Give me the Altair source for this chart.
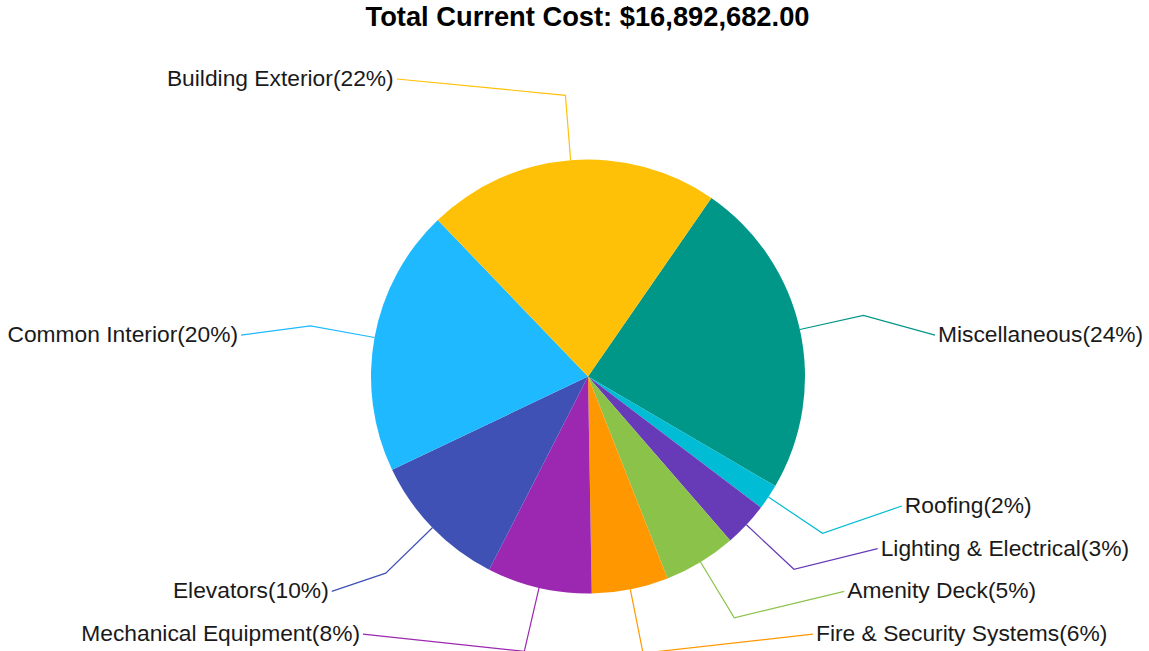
import math
import altair as alt
import pandas as pd

# ---------------- data ----------------
categories = ["Miscellaneous", "Roofing", "Lighting & Electrical", "Amenity Deck",
              "Fire & Security Systems", "Mechanical Equipment", "Elevators",
              "Common Interior", "Building Exterior"]
costs = [4020458, 320961, 557459, 912205, 962883, 1317629, 1756839, 3361644, 3682604]
colors = ["#009688", "#00BCD4", "#673AB7", "#8BC34A", "#FF9800",
          "#9C27B0", "#3F51B5", "#1EB9FF", "#FFC107"]

total = sum(costs)
title_text = f"Total Current Cost: ${total:,.2f}"

# ---------------- layout ----------------
W, H, PAD_TOP = 1149, 615, 36
CX, CY = 588, 376.5           # pie centre on the page
R = 217                       # pie radius
START = math.radians(34.65)   # angle where the first slice begins
ELBOW = 1.3                   # leader elbow radius (x R)
ROW_TOP, ROW_STEP, NROWS = 79, 42.7, 14   # label rows (page y)
LABEL_RC = ROW_TOP + ROW_STEP * (NROWS - 1) / 2   # centre of label circle
LABEL_R = 347.6                                   # radius of label circle
EDGE_ROW_X = {0: 191.3, NROWS - 1: 225.0}         # first/last rows pulled in
FONT = "Liberation Sans"

XS = alt.Scale(domain=[-CX, W - CX], nice=False, zero=False)
YS = alt.Scale(domain=[CY - (PAD_TOP + H), CY - PAD_TOP], nice=False, zero=False)

rows = [ROW_TOP + k * ROW_STEP for k in range(NROWS)]

slices = []
cum = 0
for i, (c, v) in enumerate(zip(categories, costs)):
    ang = START + 2 * math.pi * (cum + v / 2) / total
    cum += v
    pct = v / total * 100
    side = "right" if math.sin(ang) > 0 else "left"
    slices.append(dict(idx=i, category=c, cost=v, ang=ang, side=side,
                       label=f"{c}({int(pct + 0.5)}%)"))

# assign label rows (largest slices first, nearest free row)
taken = {"left": set(), "right": set()}
for s in sorted(slices, key=lambda d: -d["cost"]):
    ey = CY - ELBOW * R * math.cos(s["ang"])
    free = [k for k in range(NROWS) if k not in taken[s["side"]]]
    k = min(free, key=lambda k: abs(rows[k] - ey))
    taken[s["side"]].add(k)
    s["row"] = k

line_rows = []
text_rows = []
for s in slices:
    a = s["ang"]
    sgn = 1 if s["side"] == "right" else -1
    k = s["row"]
    ly = rows[k]
    if k in EDGE_ROW_X:
        ax = EDGE_ROW_X[k]
    else:
        ax = math.sqrt(max(LABEL_R ** 2 - (ly - LABEL_RC) ** 2, 0))
    lx = sgn * ax
    pts = [(R * math.sin(a), R * math.cos(a)),
           (ELBOW * R * math.sin(a), ELBOW * R * math.cos(a)),
           (lx, CY - ly)]
    for j, (px, py) in enumerate(pts):
        line_rows.append(dict(category=s["category"], step=j, px=px, py=py))
    text_rows.append(dict(category=s["category"], label=s["label"], side=s["side"],
                          px=lx, py=CY - ly))

pie_df = pd.DataFrame([dict(idx=s["idx"], category=s["category"], cost=s["cost"]) for s in slices])
line_df = pd.DataFrame(line_rows)
text_df = pd.DataFrame(text_rows)

color = alt.Color("category:N", scale=alt.Scale(domain=categories, range=colors), legend=None)

pie = alt.Chart(pie_df).mark_arc(radius=R, stroke=None).encode(
    theta=alt.Theta("cost:Q", stack=True,
                    scale=alt.Scale(range=[START, START + 2 * math.pi])),
    order=alt.Order("idx:Q"),
    color=color,
    x=alt.XDatum(0, type="quantitative", scale=XS, axis=None),
    y=alt.YDatum(0, type="quantitative", scale=YS, axis=None),
)

leaders = alt.Chart(line_df).mark_line(strokeWidth=1.2).encode(
    x=alt.X("px:Q", scale=XS, axis=None),
    y=alt.Y("py:Q", scale=YS, axis=None),
    order=alt.Order("step:Q"),
    color=color,
    detail="category:N",
)

text_right = alt.Chart(text_df).transform_filter(alt.datum.side == "right").mark_text(
    align="left", baseline="middle", dx=3, font=FONT, fontSize=22.8, color="#1a1a1a"
).encode(
    x=alt.X("px:Q", scale=XS, axis=None),
    y=alt.Y("py:Q", scale=YS, axis=None),
    text="label:N",
)

text_left = alt.Chart(text_df).transform_filter(alt.datum.side == "left").mark_text(
    align="right", baseline="middle", dx=-3, font=FONT, fontSize=22.8, color="#1a1a1a"
).encode(
    x=alt.X("px:Q", scale=XS, axis=None),
    y=alt.Y("py:Q", scale=YS, axis=None),
    text="label:N",
)

chart = alt.layer(pie, leaders, text_right, text_left).properties(
    width=W, height=H,
    autosize=alt.AutoSizeParams(type="none"),
    padding={"left": 0, "right": 0, "top": PAD_TOP, "bottom": 0},
    title=alt.TitleParams(text=title_text, font=FONT, fontSize=27.3, fontWeight="bold",
                          color="#000000", anchor="middle", dx=13, dy=25, offset=8,
                          baseline="alphabetic"),
).configure_view(stroke=None)

chart.save("out.html", embed_options={"renderer": "svg", "actions": False})
